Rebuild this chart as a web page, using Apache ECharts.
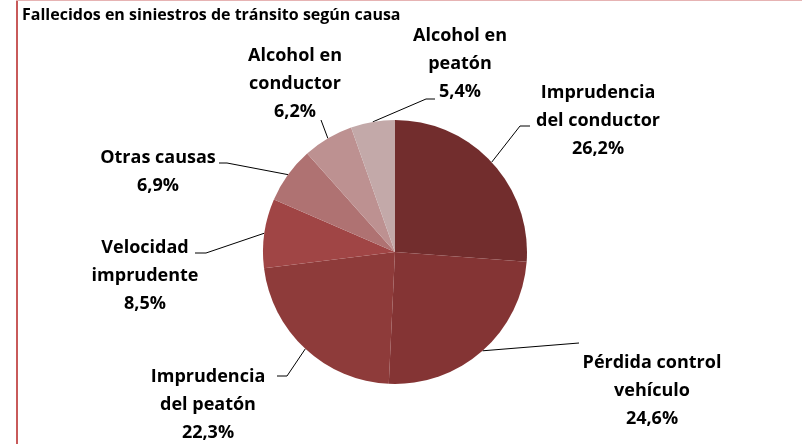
<!DOCTYPE html>
<html>
<head>
<meta charset="utf-8">
<script src="https://cdn.jsdelivr.net/npm/echarts@6/dist/echarts.min.js"></script>
<style>
  html, body { margin: 0; padding: 0; background: #fff; }
  #chart { width: 802px; height: 444px; }
</style>
</head>
<body>
<div id="chart"></div>
<script>
var categories = [
  'Imprudencia\ndel conductor',
  'Pérdida control\nvehículo',
  'Imprudencia\ndel peatón',
  'Velocidad\nimprudente',
  'Otras causas',
  'Alcohol en\nconductor',
  'Alcohol en\npeatón'
];
var values = [26.2, 24.6, 22.3, 8.5, 6.9, 6.2, 5.4];
var colors = ['#722d2d', '#843434', '#8e3b3a', '#a04545', '#af7272', '#bd9191', '#c3a9a9'];

// label block centres
var labelPos = [
  [598, 121], [652, 391], [208, 405], [145, 276], [158, 172], [295, 84], [460, 64]
];
// leader end relative to label centre, plus length of the short horizontal bit
var leaderEnd = [
  [-68, 5, -10], [-73, -48, 0], [69, -29, 10], [50, -23, 11], [61, -9, 8], [26, 36, 0], [-25, 35, -9]
];

var chart = echarts.init(document.getElementById('chart'));
chart.setOption({
  animation: false,
  title: {
    text: 'Fallecidos en siniestros de tránsito según causa',
    left: 17,
    top: 2,
    textStyle: { fontFamily: 'Open Sans', fontWeight: 'bold', fontSize: 16, color: '#000' }
  },
  graphic: [
    { type: 'line', shape: { x1: 17, y1: 0, x2: 17, y2: 444 }, style: { stroke: '#c85a5a', lineWidth: 2 } },
    { type: 'line', shape: { x1: 16, y1: 0.5, x2: 802, y2: 0.5 }, style: { stroke: '#e6b3b3', lineWidth: 1 } }
  ],
  series: [{
    type: 'pie',
    center: [395, 252],
    radius: 132,
    startAngle: 90,
    clockwise: true,
    data: categories.map(function (c, i) {
      return { name: c, value: values[i], itemStyle: { color: colors[i] } };
    }),
    label: {
      show: true,
      formatter: function (p) {
        return p.name + '\n' + p.value.toFixed(1).replace('.', ',') + '%';
      },
      fontFamily: 'Open Sans',
      fontWeight: 'bold',
      fontSize: 18,
      lineHeight: 28,
      color: '#000',
      align: 'center'
    },
    labelLine: {
      show: true,
      length: 20,
      length2: 8,
      lineStyle: { color: '#000', width: 1 }
    },
    labelLayout: function (params) {
      var i = params.dataIndex;
      var pos = labelPos[i];
      var le = leaderEnd[i];
      var start = params.labelLinePoints[0];
      var end = [pos[0] + le[0], pos[1] + le[1]];
      var elbow = [end[0] + le[2], end[1]];
      return {
        x: pos[0], y: pos[1], align: 'center', verticalAlign: 'middle',
        labelLinePoints: [start, elbow, end]
      };
    }
  }]
});
</script>
</body>
</html>
